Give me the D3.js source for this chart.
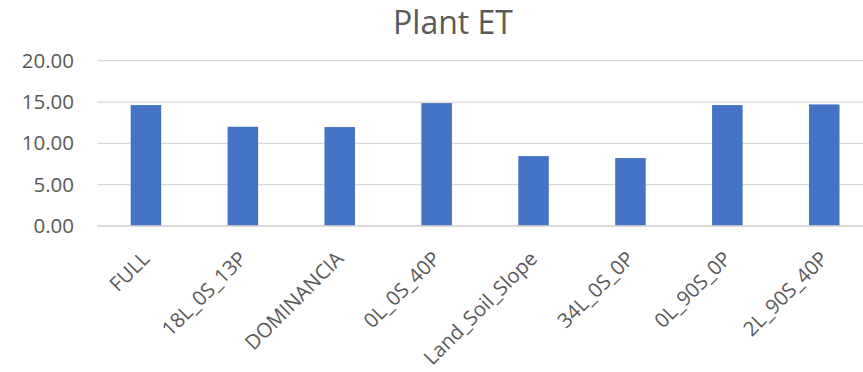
<!DOCTYPE html>
<html>
<head>
<meta charset="utf-8">
<script src="https://cdn.jsdelivr.net/npm/d3@7"></script>
<style>
  html, body { margin: 0; padding: 0; background: #fff; }
  svg { display: block; }
</style>
</head>
<body>
<svg id="chart" width="863" height="372"></svg>
<script>
// Plant ET per scenario
const categories = ["FULL", "18L_0S_13P", "DOMINANCIA", "0L_0S_40P", "Land_Soil_Slope", "34L_0S_0P", "0L_90S_0P", "2L_90S_40P"];
const plantET = [14.63, 12.01, 11.97, 14.87, 8.46, 8.22, 14.63, 14.71];
const yTicks = [0, 5, 10, 15, 20];

const svg = d3.select("#chart");
const textColor = "#595959";
const gridColor = "#d9d9d9";
const fontFamily = "'Open Sans', sans-serif";

const plot = { left: 97.5, right: 872.7, top: 60.7, bottom: 226 };

const x = d3.scaleBand()
  .domain(categories)
  .range([plot.left, plot.right])
  .paddingInner(0.685)
  .paddingOuter(0.3425);

const y = d3.scaleLinear()
  .domain([0, 20])
  .range([plot.bottom, plot.top]);

// Title
svg.append("text")
  .attr("x", 453)
  .attr("y", 34)
  .attr("text-anchor", "middle")
  .attr("font-family", fontFamily)
  .attr("font-size", 32)
  .attr("fill", textColor)
  .text("Plant ET");

// Gridlines
svg.append("g")
  .selectAll("line")
  .data(yTicks)
  .join("line")
  .attr("x1", plot.left)
  .attr("x2", plot.right)
  .attr("y1", d => y(d))
  .attr("y2", d => y(d))
  .attr("stroke", gridColor)
  .attr("stroke-width", 1.3);

// Y axis labels
const yAxis = d3.axisLeft(y)
  .tickValues(yTicks)
  .tickSize(0)
  .tickPadding(0)
  .tickFormat(d3.format(".2f"));

svg.append("g")
  .attr("transform", `translate(74,0)`)
  .call(yAxis)
  .call(g => g.select(".domain").remove())
  .call(g => g.selectAll("text")
    .attr("font-family", fontFamily)
    .attr("font-size", 20.5)
    .attr("fill", textColor));

// Bars
svg.append("g")
  .selectAll("rect")
  .data(categories.map((c, i) => ({ c, v: plantET[i] })))
  .join("rect")
  .attr("x", d => x(d.c))
  .attr("width", x.bandwidth())
  .attr("y", d => y(d.v))
  .attr("height", d => y(0) - y(d.v))
  .attr("fill", "#4472C4");

// Category axis line
svg.append("line")
  .attr("x1", plot.left)
  .attr("x2", plot.right)
  .attr("y1", y(0))
  .attr("y2", y(0))
  .attr("stroke", gridColor)
  .attr("stroke-width", 1.3);

// Category labels, rotated
const xAxis = d3.axisBottom(x).tickSize(0).tickPadding(0);
svg.append("g")
  .attr("transform", `translate(0,${y(0)})`)
  .call(xAxis)
  .call(g => g.select(".domain").remove())
  .call(g => g.selectAll("text")
    .attr("font-family", fontFamily)
    .attr("font-size", 20.3)
    .attr("fill", textColor)
    .attr("text-anchor", "end")
    .attr("dy", 0)
    .attr("y", 0)
    .attr("transform", "translate(5,34) rotate(-45)"));
</script>
</body>
</html>
